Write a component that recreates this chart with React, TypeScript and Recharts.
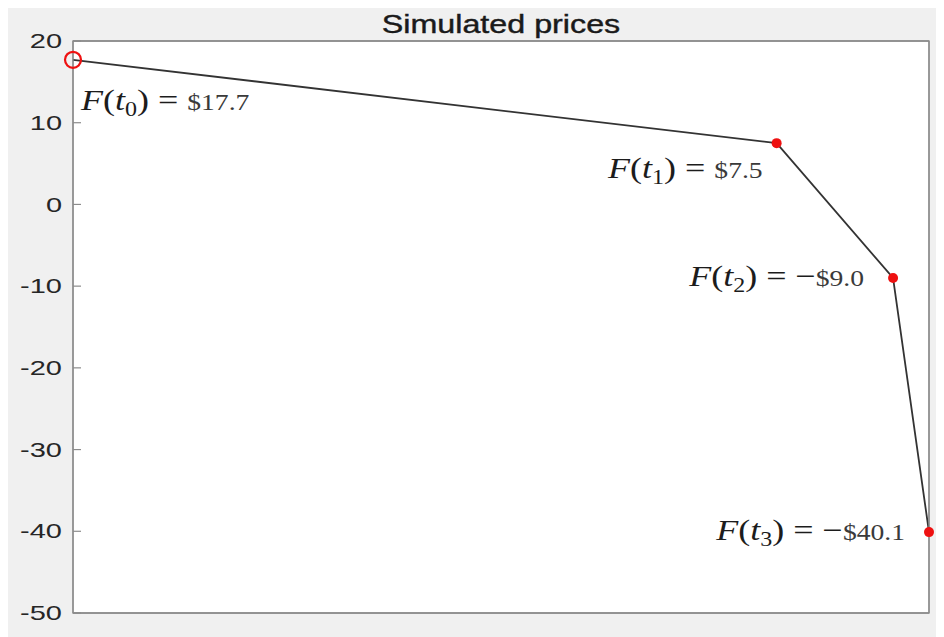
import React from "react";
import { LineChart, Line, XAxis, YAxis, CartesianGrid, ReferenceArea } from "recharts";

const times = [0, 0.822, 0.958, 1.0];
const prices = [17.7, 7.5, -9.0, -40.1];
const subscripts = ["0", "1", "2", "3"];
const priceTexts = ["$17.7", "$7.5", "$9.0", "$40.1"];
const yTicks = [-50, -40, -30, -20, -10, 0, 10, 20];
const chartTitle = "Simulated prices";

const data = times.map((t, i) => ({ t, price: prices[i] }));

const TICK_STRETCH = 1.45;
const LABEL_STRETCH = 1.2;
const labelOffsets = [
  { dx: 8, dy: 50, anchor: "start" },
  { dx: -14, dy: 35, anchor: "end" },
  { dx: -29, dy: 8, anchor: "end" },
  { dx: -24, dy: 8, anchor: "end" },
];

const YTick = (props: any) => {
  const { x, y, payload } = props;
  return (
    <g transform={`translate(${x},${y}) scale(${TICK_STRETCH},1)`}>
      <text x={0} y={0} dy="0.36em" textAnchor="end" fontFamily="Liberation Sans, Arial, sans-serif" fontSize={20} fill="#262626">
        {String(payload.value)}
      </text>
    </g>
  );
};

const EmptyTick = () => <g />;

const PointMark = (props: any) => {
  const { cx, cy, index } = props;
  const o = labelOffsets[index];
  const neg = prices[index] < 0;
  return (
    <g key={`pt-${index}`}>
      {index === 0 ? (
        <circle cx={cx} cy={cy} r={8} fill="none" stroke="#ee1111" strokeWidth={2.2} />
      ) : (
        <circle cx={cx} cy={cy} r={5} fill="#ee1111" stroke="none" />
      )}
      <g transform={`translate(${cx + o.dx},${cy + o.dy}) scale(${LABEL_STRETCH},1)`}>
        <text x={0} y={0} textAnchor={o.anchor} fontFamily="Liberation Serif, serif" fontSize={30} fill="#1c1c1c">
          <tspan fontStyle="italic">F</tspan>
          <tspan>(</tspan>
          <tspan fontStyle="italic">t</tspan>
          <tspan fontSize={20} dy={6}>{subscripts[index]}</tspan>
          <tspan dy={-6}>)</tspan>
          <tspan>{"\u00A0=\u00A0"}</tspan>
          {neg ? <tspan>{"\u2212"}</tspan> : null}
          <tspan fontSize={23} fill="#3a3a3a">{priceTexts[index]}</tspan>
        </text>
      </g>
    </g>
  );
};

const axisStroke = { stroke: "#8c8c8c", strokeWidth: 1.3 };

export default function App() {
  return (
    <div style={{ position: "relative", margin: "-3px 0 0 -1px", width: 937, height: 632, background: "#f0f0f0" }}>
      <div
        style={{
          position: "absolute",
          left: 66,
          width: 856,
          top: 7,
          lineHeight: "25px",
          textAlign: "center",
          fontFamily: "Liberation Sans, Arial, sans-serif",
          fontSize: 25,
          color: "#1a1a1a",
          WebkitTextStroke: "0.4px #1a1a1a",
          transform: "scaleX(1.29)",
          zIndex: 2,
        }}
      >
        {chartTitle}
      </div>
      <LineChart width={937} height={632} data={data} margin={{ top: 35, right: 14, bottom: 23, left: 0 }}>
        <CartesianGrid horizontal={false} vertical={false} fill="#ffffff" stroke="none" />
        <ReferenceArea x1={0} x2={1} y1={-50} y2={20} fill="none" stroke="#8c8c8c" strokeWidth={1.3} ifOverflow="visible" />
        <XAxis dataKey="t" type="number" domain={[0, 1]} height={1} tick={false} tickLine={false} axisLine={axisStroke} />
        <XAxis xAxisId="top" orientation="top" type="number" domain={[0, 1]} height={1} tick={false} tickLine={false} axisLine={axisStroke} />
        <YAxis
          type="number"
          domain={[-50, 20]}
          ticks={yTicks}
          width={66}
          tickSize={-8}
          tickMargin={19}
          tick={<YTick />}
          tickLine={{ stroke: "#8c8c8c", strokeWidth: 1.2 }}
          axisLine={axisStroke}
          interval={0}
        />
        <YAxis
          yAxisId="right"
          orientation="right"
          type="number"
          domain={[-50, 20]}
          ticks={yTicks}
          width={1}
          tickSize={-8}
          tick={<EmptyTick />}
          tickLine={{ stroke: "#8c8c8c", strokeWidth: 1.2 }}
          axisLine={axisStroke}
          interval={0}
        />
        <Line
          type="linear"
          dataKey="price"
          stroke="#333333"
          strokeWidth={1.8}
          dot={(p: any) => <PointMark key={`pm-${p.index}`} {...p} />}
          activeDot={false}
          isAnimationActive={false}
        />
      </LineChart>
    </div>
  );
}
